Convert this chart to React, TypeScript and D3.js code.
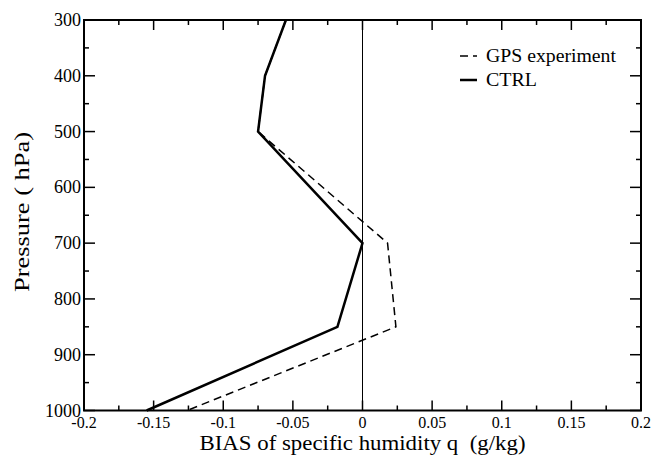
import React, { useEffect, useRef } from 'react';
import * as d3 from 'd3';

const pressure = [300, 400, 500, 700, 850, 1000];
const ctrl = [-0.055, -0.07, -0.075, 0, -0.018, -0.155];
const gps = [-0.055, -0.07, -0.075, 0.018, 0.024, -0.126];
const xTicks = [-0.2, -0.15, -0.1, -0.05, 0, 0.05, 0.1, 0.15, 0.2];
const yTicks = [300, 400, 500, 600, 700, 800, 900, 1000];

export default function App() {
  const svgRef = useRef<SVGSVGElement>(null);
  const width = 652;
  const height = 455;
  const margin = { top: 20, right: 11, bottom: 44.5, left: 84 };

  useEffect(() => {
    const svg = d3.select(svgRef.current);
    svg.selectAll('*').remove();
    const font = "'Liberation Serif', 'Times New Roman', Tinos, 'Nimbus Roman', 'Noto Serif', 'DejaVu Serif', FreeSerif, serif";

    const x = d3.scaleLinear().domain([-0.2, 0.2]).range([margin.left, width - margin.right]);
    const y = d3.scaleLinear().domain([300, 1000]).range([margin.top, height - margin.bottom]);

    // zero line
    svg.append('line')
      .attr('x1', x(0)).attr('x2', x(0))
      .attr('y1', y(300)).attr('y2', y(1000))
      .attr('stroke', '#000').attr('stroke-width', 1);

    const line = d3.line<number>()
      .x((d) => x(d))
      .y((_, i) => y(pressure[i]));

    svg.append('path').attr('d', line(gps))
      .attr('fill', 'none').attr('stroke', '#000').attr('stroke-width', 1.5)
      .attr('stroke-dasharray', '8,5');
    svg.append('path').attr('d', line(ctrl))
      .attr('fill', 'none').attr('stroke', '#000').attr('stroke-width', 2.5);

    // ticks (inward), all four sides
    const xMinor = d3.range(-0.175, 0.2, 0.05);
    const yMinor = d3.range(350, 1000, 100);
    const g = svg.append('g').attr('stroke', '#000').attr('stroke-width', 1.5);
    xTicks.forEach((t) => {
      g.append('line').attr('x1', x(t)).attr('x2', x(t)).attr('y1', y(1000)).attr('y2', y(1000) - 10);
      g.append('line').attr('x1', x(t)).attr('x2', x(t)).attr('y1', y(300)).attr('y2', y(300) + 10);
    });
    xMinor.forEach((t) => {
      g.append('line').attr('x1', x(t)).attr('x2', x(t)).attr('y1', y(1000)).attr('y2', y(1000) - 5);
      g.append('line').attr('x1', x(t)).attr('x2', x(t)).attr('y1', y(300)).attr('y2', y(300) + 5);
    });
    yTicks.forEach((t) => {
      g.append('line').attr('y1', y(t)).attr('y2', y(t)).attr('x1', x(-0.2)).attr('x2', x(-0.2) + 11);
      g.append('line').attr('y1', y(t)).attr('y2', y(t)).attr('x1', x(0.2)).attr('x2', x(0.2) - 11);
    });
    yMinor.forEach((t) => {
      g.append('line').attr('y1', y(t)).attr('y2', y(t)).attr('x1', x(-0.2)).attr('x2', x(-0.2) + 5);
      g.append('line').attr('y1', y(t)).attr('y2', y(t)).attr('x1', x(0.2)).attr('x2', x(0.2) - 5);
    });

    // frame
    svg.append('rect')
      .attr('x', x(-0.2)).attr('y', y(300))
      .attr('width', x(0.2) - x(-0.2)).attr('height', y(1000) - y(300))
      .attr('fill', 'none').attr('stroke', '#000').attr('stroke-width', 2);

    // tick labels
    svg.append('g').selectAll('text').data(xTicks).enter().append('text')
      .attr('x', (d) => x(d)).attr('y', y(1000) + 17.5)
      .attr('text-anchor', 'middle')
      .style('font-family', font).style('font-size', '16px')
      .text((d) => String(d));
    svg.append('g').selectAll('text').data(yTicks).enter().append('text')
      .attr('x', x(-0.2) - 3).attr('y', (d) => y(d) + 6)
      .attr('text-anchor', 'end')
      .style('font-family', font).style('font-size', '18px')
      .text((d) => String(d));

    // axis titles
    svg.append('text')
      .attr('x', x(0)).attr('y', 450)
      .attr('text-anchor', 'middle')
      .attr('textLength', 326).attr('lengthAdjust', 'spacingAndGlyphs')
      .style('font-family', font).style('font-size', '20px')
      .style('white-space', 'pre')
      .text('BIAS of specific humidity q  (g/kg)');
    svg.append('text')
      .attr('transform', `translate(29,212) rotate(-90)`)
      .attr('text-anchor', 'middle')
      .attr('textLength', 160).attr('lengthAdjust', 'spacingAndGlyphs')
      .style('font-family', font).style('font-size', '22px')
      .style('white-space', 'pre')
      .text('Pressure ( hPa)');

    // legend
    const legend = [
      { name: 'GPS experiment', dash: '8,5', w: 1.5, len: 130 },
      { name: 'CTRL', dash: null, w: 2.5, len: 51 },
    ];
    legend.forEach((l, i) => {
      const ly = 56 + i * 24;
      svg.append('line')
        .attr('x1', 460).attr('x2', 477).attr('y1', ly).attr('y2', ly)
        .attr('stroke', '#000').attr('stroke-width', l.w)
        .attr('stroke-dasharray', l.dash);
      svg.append('text')
        .attr('x', 486).attr('y', ly + 6)
        .attr('textLength', l.len).attr('lengthAdjust', 'spacingAndGlyphs')
        .style('font-family', font).style('font-size', '18px')
        .text(l.name);
    });
  }, []);

  return <svg ref={svgRef} width={width} height={height} style={{ position: 'absolute', left: 0, top: 0 }} />;
}
